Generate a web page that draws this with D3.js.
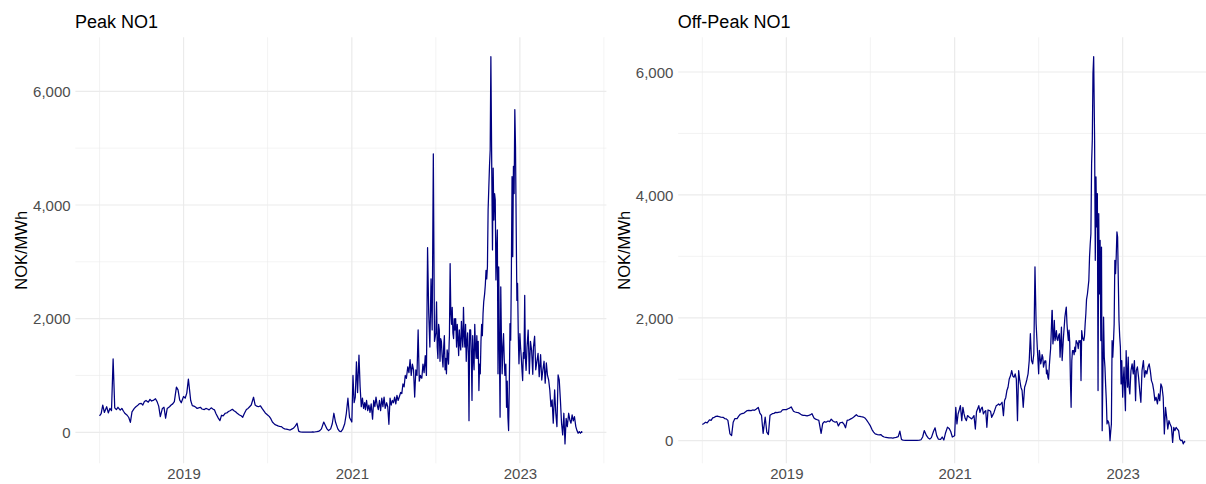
<!DOCTYPE html>
<html>
<head>
<meta charset="utf-8">
<script src="https://cdn.jsdelivr.net/npm/d3@7"></script>
<style>
  body { margin: 0; background: #ffffff; }
  svg { display: block; }
</style>
</head>
<body>
<svg id="chart" width="1206" height="484"></svg>
<script>
// Observation dates shared by both series (one line per month)
const dates = [
  "2018-01-01","2018-01-08","2018-01-15","2018-01-22",
  "2018-02-01","2018-02-08","2018-02-15","2018-02-22",
  "2018-03-01","2018-03-08","2018-03-15","2018-03-22",
  "2018-04-01","2018-04-08","2018-04-15","2018-04-22",
  "2018-05-01","2018-05-08","2018-05-15","2018-05-22",
  "2018-06-01","2018-06-08","2018-06-15","2018-06-22",
  "2018-07-01","2018-07-08","2018-07-15","2018-07-22",
  "2018-08-01","2018-08-08","2018-08-15","2018-08-22",
  "2018-09-01","2018-09-08","2018-09-15","2018-09-22",
  "2018-10-01","2018-10-08","2018-10-15","2018-10-22",
  "2018-11-01","2018-11-08","2018-11-15","2018-11-22",
  "2018-12-01","2018-12-08","2018-12-15","2018-12-22",
  "2019-01-01","2019-01-08","2019-01-15","2019-01-22",
  "2019-02-01","2019-02-08","2019-02-15","2019-02-22",
  "2019-03-01","2019-03-08","2019-03-15","2019-03-22",
  "2019-04-01","2019-04-08","2019-04-15","2019-04-22",
  "2019-05-01","2019-05-08","2019-05-15","2019-05-22",
  "2019-06-01","2019-06-08","2019-06-15","2019-06-22",
  "2019-07-01","2019-07-08","2019-07-15","2019-07-22",
  "2019-08-01","2019-08-08","2019-08-15","2019-08-22",
  "2019-09-01","2019-09-08","2019-09-15","2019-09-22",
  "2019-10-01","2019-10-08","2019-10-15","2019-10-22",
  "2019-11-01","2019-11-08","2019-11-15","2019-11-22",
  "2019-12-01","2019-12-08","2019-12-15","2019-12-22",
  "2020-01-01","2020-01-08","2020-01-15","2020-01-22",
  "2020-02-01","2020-02-08","2020-02-15","2020-02-22",
  "2020-03-01","2020-03-08","2020-03-15","2020-03-22",
  "2020-04-01","2020-04-08","2020-04-15","2020-04-22",
  "2020-05-01","2020-05-08","2020-05-15","2020-05-22",
  "2020-06-01","2020-06-08","2020-06-15","2020-06-22",
  "2020-07-01","2020-07-08","2020-07-15","2020-07-22",
  "2020-08-01","2020-08-08","2020-08-15","2020-08-22",
  "2020-09-01","2020-09-08","2020-09-15","2020-09-22",
  "2020-10-01","2020-10-08","2020-10-15","2020-10-22",
  "2020-11-01","2020-11-08","2020-11-15","2020-11-22",
  "2020-12-01","2020-12-08","2020-12-15","2020-12-22",
  "2021-01-01","2021-01-06","2021-01-11","2021-01-16","2021-01-21","2021-01-26",
  "2021-02-01","2021-02-06","2021-02-11","2021-02-16","2021-02-21","2021-02-26",
  "2021-03-01","2021-03-06","2021-03-11","2021-03-16","2021-03-21","2021-03-26",
  "2021-04-01","2021-04-06","2021-04-11","2021-04-16","2021-04-21","2021-04-26",
  "2021-05-01","2021-05-06","2021-05-11","2021-05-16","2021-05-21","2021-05-26",
  "2021-06-01","2021-06-06","2021-06-11","2021-06-16","2021-06-21","2021-06-26",
  "2021-07-01","2021-07-06","2021-07-11","2021-07-16","2021-07-21","2021-07-26",
  "2021-08-01","2021-08-06","2021-08-11","2021-08-16","2021-08-21","2021-08-26",
  "2021-09-01","2021-09-06","2021-09-11","2021-09-16","2021-09-21","2021-09-26",
  "2021-10-01","2021-10-06","2021-10-11","2021-10-16","2021-10-21","2021-10-26",
  "2021-11-01","2021-11-06","2021-11-11","2021-11-16","2021-11-21","2021-11-26",
  "2021-12-01","2021-12-06","2021-12-11","2021-12-16","2021-12-21","2021-12-26",
  "2022-01-01","2022-01-04","2022-01-07","2022-01-10","2022-01-13","2022-01-16","2022-01-19","2022-01-22","2022-01-25","2022-01-28",
  "2022-02-01","2022-02-04","2022-02-07","2022-02-10","2022-02-13","2022-02-16","2022-02-19","2022-02-22","2022-02-25","2022-02-28",
  "2022-03-01","2022-03-04","2022-03-07","2022-03-10","2022-03-13","2022-03-16","2022-03-19","2022-03-22","2022-03-25","2022-03-28",
  "2022-04-01","2022-04-04","2022-04-07","2022-04-10","2022-04-13","2022-04-16","2022-04-19","2022-04-22","2022-04-25","2022-04-28",
  "2022-05-01","2022-05-04","2022-05-07","2022-05-10","2022-05-13","2022-05-16","2022-05-19","2022-05-22","2022-05-25","2022-05-28",
  "2022-06-01","2022-06-04","2022-06-07","2022-06-10","2022-06-13","2022-06-16","2022-06-19","2022-06-22","2022-06-25","2022-06-28",
  "2022-07-01","2022-07-04","2022-07-07","2022-07-10","2022-07-13","2022-07-16","2022-07-19","2022-07-22","2022-07-25","2022-07-28",
  "2022-08-01","2022-08-04","2022-08-07","2022-08-10","2022-08-13","2022-08-16","2022-08-19","2022-08-22","2022-08-25","2022-08-28",
  "2022-09-01","2022-09-04","2022-09-07","2022-09-10","2022-09-13","2022-09-16","2022-09-19","2022-09-22","2022-09-25","2022-09-28",
  "2022-10-01","2022-10-04","2022-10-07","2022-10-10","2022-10-13","2022-10-16","2022-10-19","2022-10-22","2022-10-25","2022-10-28",
  "2022-11-01","2022-11-04","2022-11-07","2022-11-10","2022-11-13","2022-11-16","2022-11-19","2022-11-22","2022-11-25","2022-11-28",
  "2022-12-01","2022-12-04","2022-12-07","2022-12-10","2022-12-13","2022-12-16","2022-12-19","2022-12-22","2022-12-25","2022-12-28",
  "2023-01-01","2023-01-04","2023-01-07","2023-01-10","2023-01-13","2023-01-16","2023-01-19","2023-01-22","2023-01-25","2023-01-28",
  "2023-02-01","2023-02-06","2023-02-11","2023-02-16","2023-02-21","2023-02-26",
  "2023-03-01","2023-03-06","2023-03-11","2023-03-16","2023-03-21","2023-03-26",
  "2023-04-01","2023-04-06","2023-04-11","2023-04-16","2023-04-21","2023-04-26",
  "2023-05-01","2023-05-06","2023-05-11","2023-05-16","2023-05-21","2023-05-26",
  "2023-06-01","2023-06-06","2023-06-11","2023-06-16","2023-06-21","2023-06-26",
  "2023-07-01","2023-07-06","2023-07-11","2023-07-16","2023-07-21","2023-07-26",
  "2023-08-01","2023-08-06","2023-08-11","2023-08-16","2023-08-21","2023-08-26",
  "2023-09-01","2023-09-06","2023-09-11","2023-09-16","2023-09-21","2023-09-26","2023-09-29"
];

// Peak price, NO1 (NOK/MWh)
const peakNO1 = [
  290, 330, 480, 350,
  450, 340, 420, 380,
  1290, 430, 400, 440,
  390, 420, 370, 330,
  300, 260, 175, 360,
  420, 450, 470, 500,
  510, 480, 540, 560,
  530, 580, 550, 560,
  590, 540, 460, 276,
  420, 440, 247, 420,
  450, 480, 500, 540,
  794, 747, 570, 520,
  630, 600, 690, 935,
  560, 470, 460, 445,
  420, 430, 440, 410,
  400, 420, 410, 395,
  430, 410, 395, 325,
  250, 205, 300, 290,
  335, 340, 365, 380,
  405, 380, 360, 335,
  305, 290, 265, 330,
  400, 420, 450, 480,
  617, 480, 460, 450,
  465, 420, 380, 340,
  305, 280, 240, 180,
  140, 125, 112, 105,
  100, 75, 60, 55,
  45, 40, 55, 70,
  112, 159, 20, 8,
  5, 5, 3, 5,
  4, 5, 6, 5,
  10, 15, 30, 60,
  180, 120, 60, 30,
  60, 150, 335, 180,
  60, 20, 10, 50,
  150, 330, 600, 260,
  180, 1000, 520, 620, 1240, 700,
  1360, 800, 450, 600, 420, 520,
  400, 560, 380, 480, 350, 500,
  230, 560, 450, 620, 480, 400,
  560, 380, 600, 450, 620, 420,
  520, 450, 140, 600, 480, 560,
  520, 620, 500, 650, 560, 620,
  700, 680, 850, 800, 1000, 950,
  1150, 1050, 1280, 1000, 1200, 1100,
  620, 1100, 1000, 1800, 900, 1000,
  950, 1200, 1050, 1350, 1000, 3250,
  2100, 1500, 2700, 1800, 4900, 1600,
  1750, 2294, 1500, 1300, 1900, 1800, 1250, 1650, 1600, 1350,
  1150, 1500, 1700, 1100, 1300, 1030, 1450, 1350, 1200, 1600,
  1700, 2970, 2100, 1900, 2200, 1750, 1650, 2000, 1800, 2000,
  1500, 1900, 1650, 1350, 1800, 1550, 1450, 1950, 1700, 1500,
  2200, 1700, 1500, 1900, 1250, 1600, 1750, 1400, 205, 1800,
  1800, 1400, 560, 1700, 1300, 1100, 1900, 1500, 1300, 1700,
  1300, 1600, 735, 1200, 1030, 1600, 1900, 1700, 2090, 2300,
  2440, 2600, 2850, 2700, 2910, 3910, 4300, 4680, 4970, 6610,
  4560, 3210, 4650, 3735, 4200, 4090, 2680, 3200, 3560, 1030,
  2910, 1500, 265, 2560, 1600, 1030, 1500, 1735, 1300, 1000,
  1200, 440, 900, 265, 30, 800, 1910, 1620, 2800, 4500,
  3090, 4680, 4200, 5680, 5030, 3600, 2320, 2620, 1735, 1205,
  1735, 1500, 1325, 1100, 910, 1400, 1300, 2410, 1300, 1090,
  1500, 1800, 1030, 1600, 1440, 1020,
  1500, 1690, 1100, 1250, 1390, 980,
  1365, 920, 1100, 1250, 865, 1220,
  1000, 920, 745, 453, 570, 160,
  745, 335, 100, 1010, 920, 570,
  160, -47, 335, -205, 247, 100,
  335, 217, 160, 305, 200, 275,
  100, 30, -17, 12, -17, 12, -5
];

// Off-peak price, NO1 (NOK/MWh)
const offPeakNO1 = [
  264, 280, 300, 290,
  340, 330, 370, 380,
  395, 400, 390, 385,
  380, 360, 355, 330,
  110, 82, 300, 357,
  360, 400, 430, 440,
  450, 470, 490, 495,
  490, 500, 495, 510,
  540, 450, 412, 120,
  385, 140, 100, 412,
  440, 445, 460, 455,
  465, 470, 500, 505,
  505, 520, 530, 550,
  480, 467, 460, 455,
  440, 420, 412, 410,
  405, 412, 420, 440,
  370, 350, 340, 330,
  120, 280, 310, 300,
  320, 310, 350, 320,
  300, 310, 240, 290,
  300, 270, 210, 330,
  340, 355, 370, 390,
  423, 400, 395, 390,
  385, 370, 340, 300,
  240, 180, 140, 110,
  100, 95, 100, 75,
  60, 55, 50, 45,
  44, 42, 48, 55,
  66, 154, 20, 8,
  5, 4, 3, 4,
  4, 5, 5, 6,
  8, 15, 60, 165,
  82, 44, 27, 50,
  150, 209, 82, 27,
  20, 60, 10, 120,
  220, 200, 150, 60,
  80, 544, 272, 435, 500, 571,
  326, 544, 435, 360, 326, 408,
  400, 381, 370, 354, 380, 408,
  190, 470, 520, 571, 462, 520,
  544, 435, 470, 490, 218, 500,
  490, 480, 381, 420, 460, 517,
  571, 580, 598, 580, 600, 625,
  408, 653, 700, 816, 870, 1000,
  1060, 1142, 1050, 1033, 1088, 1000,
  326, 1142, 980, 870, 816, 544,
  870, 925, 1000, 1088, 1300, 1741,
  1306, 1251, 1415, 2829, 1904, 1523,
  1088, 1469, 1360, 1250, 1306, 1400, 1360, 1197, 1250, 1300,
  1300, 1087, 1150, 1033, 1000, 1200, 1360, 1500, 1800, 2120,
  2120, 1576, 1700, 1957, 1630, 1700, 1793, 1650, 1630, 1700,
  1740, 1360, 1600, 1848, 1304, 1500, 1700, 1850, 2011, 2100,
  2174, 1902, 1750, 1630, 1800, 1600, 978, 543, 1300, 1467,
  1467, 1400, 1522, 1450, 1630, 1600, 1580, 1500, 1630, 1600,
  1630, 978, 1793, 1700, 1650, 1630, 1700, 1900, 2065, 2300,
  2391, 2500, 2609, 2989, 3200, 3370, 4511, 4891, 5978, 6250,
  4891, 2935, 4293, 3478, 4022, 815, 3696, 2391, 3261, 1630,
  3152, 163, 1087, 2011, 1360, 1196, 900, 652, 272, 326,
  300, 217, 0, 150, 272, 1630, 1360, 1600, 1902, 2935,
  2717, 3000, 3397, 3315, 2609, 1957, 1700, 1522, 924, 1304,
  707, 1000, 1196, 800, 489, 1467, 1100, 870, 1360, 900,
  761, 1141, 1250, 1087, 1304, 652,
  1141, 1200, 1030, 815, 625, 1141,
  1304, 1033, 1141, 1087, 1196, 1250,
  1141, 978, 924, 815, 652, 707,
  598, 761, 652, 924, 870, 707,
  109, 543, 380, 190, 326, 272,
  217, -27, 217, 163, 217, 190,
  163, 27, 0, 10, -53, -10, -27
];

// Axis breaks
const yearTicks = [2019, 2021, 2023];
const yearMinorTicks = [2018, 2020, 2022, 2024];
const valueTicks = [0, 2000, 4000, 6000];
const valueMinorTicks = [1000, 3000, 5000];

const panelTitles = ["Peak NO1", "Off-Peak NO1"];
const axisTitle = "NOK/MWh";

const FONT = '"Liberation Sans", Arial, Helvetica, sans-serif';
const LINE_COLOR = "#000080";
const GRID_COLOR = "#EBEBEB";
const TEXT_GREY = "#4D4D4D";
const panelTop = 37.3;
const panelBottom = 463.3;

const parseDate = d3.timeParse("%Y-%m-%d");
const svg = d3.select("#chart");
svg.append("rect").attr("width", 1206).attr("height", 484).attr("fill", "#ffffff");

function drawPanel(title, values, left, right) {
  const pts = dates.map((d, i) => ({ t: parseDate(d), v: values[i] }));

  // ggplot-style 5% expansion on both scales
  const [t0, t1] = d3.extent(pts, p => p.t);
  const tPad = (t1 - t0) * 0.05;
  const x = d3.scaleTime()
    .domain([new Date(+t0 - tPad), new Date(+t1 + tPad)])
    .range([left, right]);

  const [v0, v1] = d3.extent(pts, p => p.v);
  const vPad = (v1 - v0) * 0.05;
  const y = d3.scaleLinear()
    .domain([v0 - vPad, v1 + vPad])
    .range([panelBottom, panelTop]);

  const inY = v => v >= y.domain()[0] && v <= y.domain()[1];
  const toDate = yr => new Date(yr, 0, 1);
  const inX = yr => toDate(yr) >= x.domain()[0] && toDate(yr) <= x.domain()[1];

  const g = svg.append("g");
  const grid = g.append("g").attr("fill", "none");

  // minor grid
  grid.selectAll("line.ymin").data(valueMinorTicks.filter(inY)).join("line")
    .attr("class", "ymin")
    .attr("x1", left).attr("x2", right)
    .attr("y1", d => y(d)).attr("y2", d => y(d))
    .attr("stroke", GRID_COLOR).attr("stroke-width", 0.6);
  grid.selectAll("line.xmin").data(yearMinorTicks.filter(inX)).join("line")
    .attr("class", "xmin")
    .attr("x1", d => x(toDate(d))).attr("x2", d => x(toDate(d)))
    .attr("y1", panelTop).attr("y2", panelBottom)
    .attr("stroke", GRID_COLOR).attr("stroke-width", 0.6);

  // major grid
  grid.selectAll("line.ymaj").data(valueTicks.filter(inY)).join("line")
    .attr("class", "ymaj")
    .attr("x1", left).attr("x2", right)
    .attr("y1", d => y(d)).attr("y2", d => y(d))
    .attr("stroke", GRID_COLOR).attr("stroke-width", 1.2);
  grid.selectAll("line.xmaj").data(yearTicks.filter(inX)).join("line")
    .attr("class", "xmaj")
    .attr("x1", d => x(toDate(d))).attr("x2", d => x(toDate(d)))
    .attr("y1", panelTop).attr("y2", panelBottom)
    .attr("stroke", GRID_COLOR).attr("stroke-width", 1.2);

  // price series
  const line = d3.line()
    .defined(p => p.t && Number.isFinite(p.v))
    .x(p => x(p.t))
    .y(p => y(p.v));
  g.append("path")
    .datum(pts)
    .attr("d", line)
    .attr("fill", "none")
    .attr("stroke", LINE_COLOR)
    .attr("stroke-width", 1.25)
    .attr("stroke-linejoin", "round");

  // axes (labels only, no ticks or domain line)
  const xAxis = d3.axisBottom(x)
    .tickValues(yearTicks.map(toDate))
    .tickFormat(d3.timeFormat("%Y"))
    .tickSize(0)
    .tickPadding(5.5);
  g.append("g")
    .attr("transform", `translate(0,${panelBottom})`)
    .call(xAxis)
    .call(a => a.select(".domain").remove())
    .attr("font-family", FONT)
    .attr("font-size", 15)
    .attr("color", TEXT_GREY);

  const yAxis = d3.axisLeft(y)
    .tickValues(valueTicks.filter(inY))
    .tickFormat(d3.format(","))
    .tickSize(0)
    .tickPadding(4.8);
  g.append("g")
    .attr("transform", `translate(${left},0)`)
    .call(yAxis)
    .call(a => a.select(".domain").remove())
    .call(a => a.selectAll("text").attr("dy", "0.35em"))
    .attr("font-family", FONT)
    .attr("font-size", 15)
    .attr("color", TEXT_GREY);

  // axis title
  g.append("text")
    .attr("transform", `translate(${left - 48},${(panelTop + panelBottom) / 2}) rotate(-90)`)
    .attr("text-anchor", "middle")
    .attr("font-family", FONT)
    .attr("font-size", 16.5)
    .attr("fill", "#000000")
    .text(axisTitle);

  // panel title
  g.append("text")
    .attr("x", left - 0.5)
    .attr("y", 28.3)
    .attr("font-family", FONT)
    .attr("font-size", 18)
    .attr("fill", "#000000")
    .text(title);
}

drawPanel(panelTitles[0], peakNO1, 75.4, 606.4);
drawPanel(panelTitles[1], offPeakNO1, 678.2, 1209.2);
</script>
</body>
</html>
